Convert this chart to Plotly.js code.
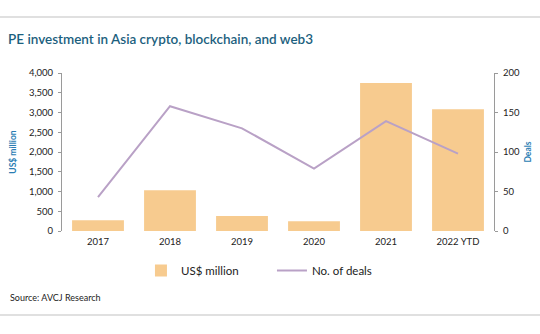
<!DOCTYPE html>
<html>
<head>
<meta charset="utf-8">
<script src="https://cdn.plot.ly/plotly-3.0.1.min.js"></script>
<style>html,body{margin:0;padding:0;background:#fff;}#chart{width:540px;height:334px;}</style>
</head>
<body>
<div id="chart"></div>
<script>
const categories = ["2017", "2018", "2019", "2020", "2021", "2022 YTD"];
const investment = [270, 1030, 380, 250, 3750, 3080];
const deals = [43, 158, 130, 79, 139, 98];
const leftTicks = [0, 500, 1000, 1500, 2000, 2500, 3000, 3500, 4000];
const rightTicks = [0, 50, 100, 150, 200];

const tickFont = {family: "Lato, 'DejaVu Sans', sans-serif", size: 9.5, color: "#222"};

const data = [
  {type: "bar", name: "US$ million", x: categories, y: investment,
   marker: {color: "#F7CB8F"}, yaxis: "y", hoverinfo: "x+y"},
  {type: "scatter", mode: "lines", name: "No. of deals", x: categories, y: deals,
   line: {color: "#B9A1C6", width: 2}, yaxis: "y2"}
];

const layout = {
  width: 540, height: 334,
  margin: {l: 62, r: 46, t: 73, b: 103, pad: 0},
  paper_bgcolor: "#fff", plot_bgcolor: "#fff",
  bargap: 0.28,
  showlegend: true,
  title: {text: "PE investment in Asia crypto, blockchain, and web3",
    font: {family: "Lato, 'DejaVu Sans', sans-serif", size: 13.5, color: "#1C5F7E", weight: 600},
    xref: "container", yref: "container", x: 8/540, xanchor: "left", y: 1 - 39/334, yanchor: "middle"},
  xaxis: {type: "category", tickfont: tickFont, showline: false, ticks: "", showgrid: false, zeroline: false,
    ticklabelstandoff: 3, fixedrange: true},
  yaxis: {range: [0, 4000], tickvals: leftTicks, tickformat: ",d", tickfont: tickFont,
    showline: true, linecolor: "#9a9a9a", linewidth: 1, ticks: "outside", ticklen: 3, tickcolor: "#9a9a9a",
    showgrid: false, zeroline: false, ticklabelstandoff: 3,
    title: {text: "<b>US$ million</b>", font: {family: "Lato, 'DejaVu Sans', sans-serif", size: 8.5, color: "#2A7DB3"}, standoff: 10}},
  yaxis2: {range: [0, 200], tickvals: rightTicks, tickfont: tickFont, overlaying: "y", side: "right",
    showline: true, linecolor: "#9a9a9a", linewidth: 1, ticks: "outside", ticklen: 3, tickcolor: "#9a9a9a",
    showgrid: false, zeroline: false, ticklabelstandoff: 3,
    title: {text: "<b>Deals</b>", font: {family: "Lato, 'DejaVu Sans', sans-serif", size: 8.5, color: "#2A7DB3"}, standoff: 6}},
  legend: {orientation: "h", x: 0.486, xanchor: "center", y: -0.25, yanchor: "middle",
    font: {family: "Lato, 'DejaVu Sans', sans-serif", size: 11.5, color: "#222"},
    entrywidth: 86, traceorder: "normal"},
  annotations: [
    {text: "Source: AVCJ Research", xref: "paper", yref: "paper", x: -54/432, y: (231-297)/158,
     xanchor: "left", yanchor: "middle", showarrow: false,
     font: {family: "Lato, 'DejaVu Sans', sans-serif", size: 9, color: "#222"}}
  ],
  shapes: [
    {type: "line", xref: "paper", yref: "paper", x0: -62/432, x1: 478/432, y0: (231-17)/158, y1: (231-17)/158,
     line: {color: "#d6d6d6", width: 1.5}},
    {type: "line", xref: "paper", yref: "paper", x0: -62/432, x1: 478/432, y0: (231-315)/158, y1: (231-315)/158,
     line: {color: "#d6d6d6", width: 1.5}}
  ]
};

Plotly.newPlot("chart", data, layout, {displayModeBar: false, staticPlot: true});
</script>
</body>
</html>
